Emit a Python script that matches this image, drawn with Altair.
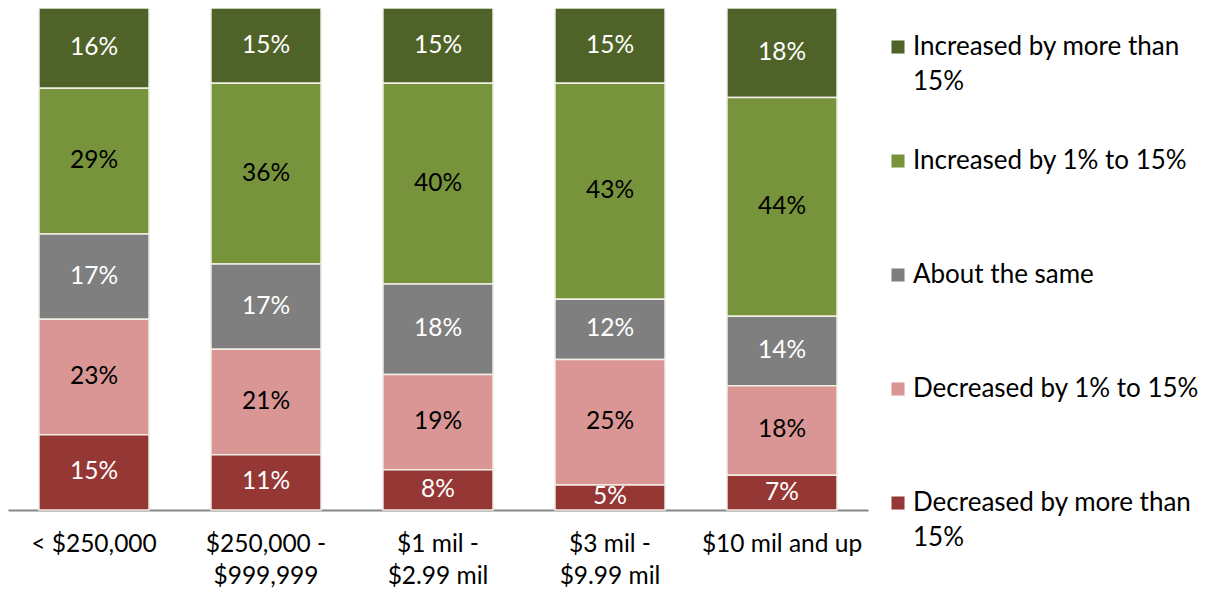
import altair as alt
import pandas as pd

categories = ["< $250,000", "$250,000 - $999,999", "$1 mil - $2.99 mil",
              "$3 mil - $9.99 mil", "$10 mil and up"]
series = ["Increased by more than 15%", "Increased by 1% to 15%", "About the same",
          "Decreased by 1% to 15%", "Decreased by more than 15%"]
values = {
    "Increased by more than 15%": [16, 15, 15, 15, 18],
    "Increased by 1% to 15%": [29, 36, 40, 43, 44],
    "About the same": [17, 17, 18, 12, 14],
    "Decreased by 1% to 15%": [23, 21, 19, 25, 18],
    "Decreased by more than 15%": [15, 11, 8, 5, 7],
}
colors = ["#4F6228", "#77933C", "#7F7F7F", "#D99694", "#953735"]
dark_label_series = ["Increased by 1% to 15%", "Decreased by 1% to 15%"]

rows = []
for s_i, s in enumerate(series):
    for c_i, c in enumerate(categories):
        rows.append({"cat": c, "series": s, "value": values[s][c_i],
                     "rank": len(series) - s_i})
df = pd.DataFrame(rows)

FONT = "Lato"
FS = 24.5
LFS = 26

base = alt.Chart(df).transform_stack(
    stack="value", as_=["y0", "y1"], groupby=["cat"],
    sort=[alt.SortField("rank", order="ascending")], offset="normalize"
).transform_calculate(mid="(datum.y0 + datum.y1) / 2")

x_enc = alt.X("cat:N", sort=categories, title=None,
              scale=alt.Scale(paddingInner=0.36, paddingOuter=0.18),
              axis=alt.Axis(
                  labelExpr="indexof(datum.label, ' - ') > 0 ? [slice(datum.label, 0, indexof(datum.label, ' - ') + 2), slice(datum.label, indexof(datum.label, ' - ') + 3)] : datum.label",
                  labelAngle=0, labelFont=FONT, labelFontSize=FS, labelColor="black",
                  labelLineHeight=32, labelBaseline="top", labelPadding=22,
                  ticks=False, domainColor="#868686", domainWidth=2,
                  grid=False, labelLimit=300))

y_scale = alt.Scale(domain=[0, 1], nice=False)

bars = base.mark_bar(stroke="#F2F0E6", strokeWidth=1.5).encode(
    x=x_enc,
    y=alt.Y("y0:Q", scale=y_scale, axis=None),
    y2="y1:Q",
    color=alt.Color("series:N", sort=series,
                    scale=alt.Scale(domain=series, range=colors),
                    legend=alt.Legend(
                        title=None, orient="none", legendX=877, legendY=26,
                        symbolType="square", symbolSize=170, symbolStrokeWidth=0,
                        labelFont=FONT, labelFontSize=LFS, labelColor="black",
                        labelLimit=400, labelOffset=2, rowPadding=53,
                        gridAlign="all",
                        labelExpr="indexof(datum.label, 'more than') > 0 ? [slice(datum.label, 0, indexof(datum.label, ' 15%')), '15%'] : datum.label",
                    )),
)

labels = base.mark_text(font=FONT, fontSize=FS, baseline="middle").encode(
    x=alt.X("cat:N", sort=categories),
    y=alt.Y("mid:Q", scale=y_scale, axis=None),
    text=alt.Text("label:N"),
    color=alt.condition(alt.FieldOneOfPredicate(field="series", oneOf=dark_label_series),
                        alt.value("black"), alt.value("white")),
).transform_calculate(label="datum.value + '%'")

chart = alt.layer(bars, labels).properties(
    width=860, height=502,
    padding={"left": 0, "top": 0, "right": 336, "bottom": 82},
    autosize=alt.AutoSizeParams(type="none"),
).configure(
    style={"guide-label": {"lineHeight": 35}}
).configure_view(stroke=None)

chart.save("out.html", embed_options={"renderer": "svg", "actions": False})
